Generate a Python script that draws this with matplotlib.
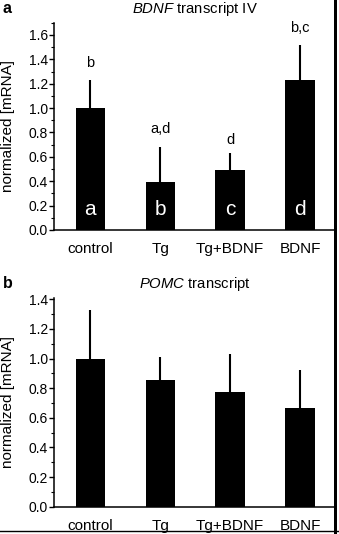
import matplotlib.pyplot as plt
from matplotlib.lines import Line2D
from matplotlib.patches import Rectangle
from matplotlib.ticker import MultipleLocator
import numpy as np

plt.rcParams['font.family'] = ['Liberation Sans', 'DejaVu Sans']
plt.rcParams['mathtext.fontset'] = 'custom'
plt.rcParams['mathtext.rm'] = 'Liberation Sans'
plt.rcParams['mathtext.it'] = 'Liberation Sans:italic'

groups = ["control", "Tg", "Tg+BDNF", "BDNF"]

# BDNF transcript IV
bdnf_mean = [1.00, 0.39, 0.495, 1.23]
bdnf_err = [0.23, 0.29, 0.14, 0.29]
bdnf_inside = ["a", "b", "c", "d"]
bdnf_sig = ["b", "a,d", "d", "b,c"]

# POMC transcript
pomc_mean = [1.00, 0.855, 0.775, 0.668]
pomc_err = [0.325, 0.155, 0.255, 0.255]

sig_y = [1.37, 0.83, 0.74, 1.66]

fig = plt.figure(figsize=(3.39, 5.34), dpi=100)
ax_a = fig.add_axes([54 / 339, 1 - 230 / 534, 281 / 339, 207.2 / 534])
ax_b = fig.add_axes([54 / 339, 1 - 506.7 / 534, 281 / 339, 208.8 / 534])


def draw_panel(ax, means, errs, ymax, title, letter):
    x = np.arange(len(groups))
    ax.patch.set_visible(False)
    ax.bar(x, means, width=0.42, color="black")
    ax.errorbar(x, means, yerr=[np.zeros(len(errs)), errs], fmt="none",
                ecolor="black", elinewidth=1.5, capsize=0)
    ax.set_xlim(-0.52, 3.5)
    ax.set_ylim(0, ymax)
    ax.set_xticks(x)
    ax.set_xticklabels(groups, fontsize=11)
    ax.yaxis.set_major_locator(MultipleLocator(0.2))
    ax.yaxis.set_minor_locator(MultipleLocator(0.1))
    ax.yaxis.set_major_formatter(plt.FormatStrFormatter("%.1f"))
    ax.tick_params(axis="x", length=0, pad=8.5)
    ax.tick_params(axis="y", which="major", direction="out", length=3.5,
                   width=1, pad=1, labelsize=10)
    ax.tick_params(axis="y", which="minor", direction="out", length=2, width=0.8)
    for side in ["top", "right"]:
        ax.spines[side].set_visible(False)
    for side in ["left", "bottom"]:
        ax.spines[side].set_linewidth(1.1)
    ax.set_ylabel("normalized [mRNA]", fontsize=11)
    ax.yaxis.set_label_coords(-0.139, 0.5)
    ax.annotate(title, xy=(0.5, 1), xycoords="axes fraction", xytext=(0, 6.8),
                textcoords="offset points", ha="center", va="baseline",
                fontsize=10.7)
    ax.annotate(letter, xy=(0, 1), xycoords="axes fraction", xytext=(-33.5, 7.3),
                textcoords="offset points", ha="center", va="baseline",
                fontsize=11.5, fontweight="bold")


draw_panel(ax_a, bdnf_mean, bdnf_err, 1.7, r"$\it{BDNF}$ transcript IV", "a")
draw_panel(ax_b, pomc_mean, pomc_err, 1.41, r"$\it{POMC}$ transcript", "b")

for i, (lab, sig, y) in enumerate(zip(bdnf_inside, bdnf_sig, sig_y)):
    ax_a.text(i, 0.17, lab, color="white", fontsize=15, ha="center", va="center")
    ax_a.text(i, y, sig, color="black", fontsize=10.5, ha="center", va="center")

# frame on the right and bottom edge
fig.add_artist(Rectangle((334 / 339, 0), 3 / 339, 1, facecolor="black",
                         edgecolor="none", transform=fig.transFigure, zorder=10))
fig.add_artist(Line2D([0, 1], [1 - 530.7 / 534, 1 - 530.7 / 534], color="black",
                      linewidth=1, transform=fig.transFigure, zorder=10))

fig.savefig("out.png", dpi=100)
